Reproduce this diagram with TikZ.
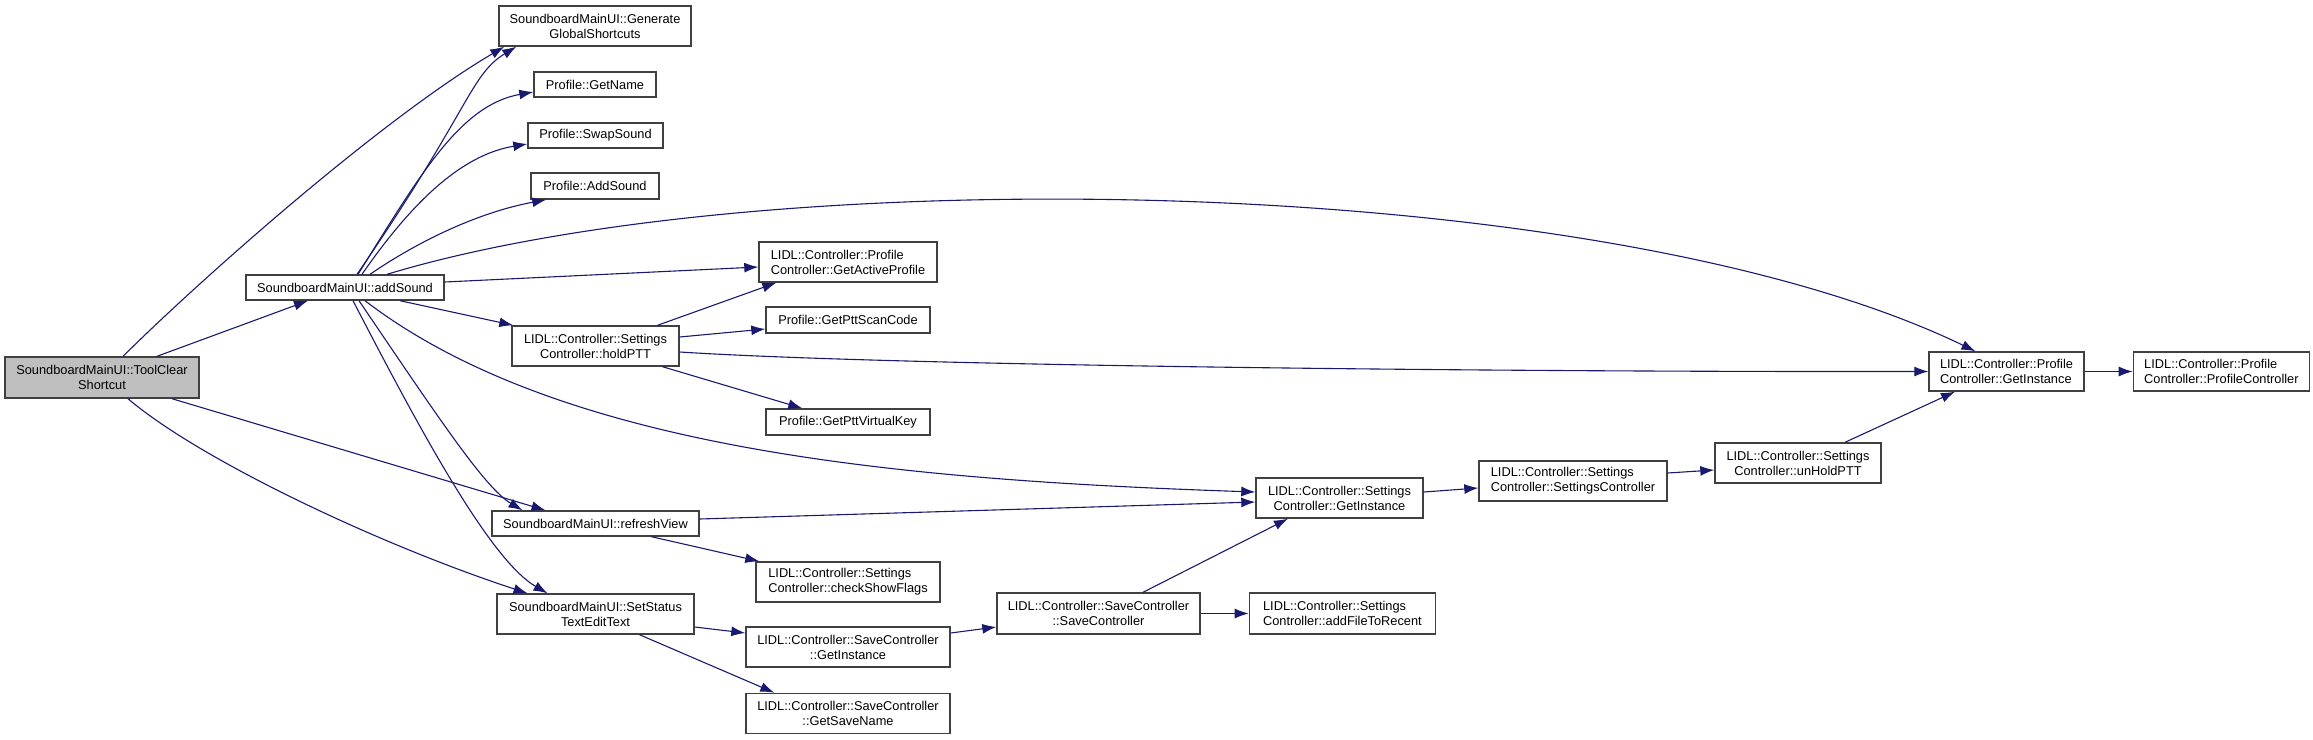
\documentclass[tikz,border=0pt]{standalone}
\usepackage{fontspec}
\setmainfont{Liberation Sans}
\usepackage{xcolor}
\usetikzlibrary{positioning,arrows.meta}
\definecolor{edgeblue}{HTML}{191970}
\definecolor{curgray}{HTML}{BFBFBF}

\begin{document}
\begin{tikzpicture}[
    x=1pt,y=-1pt,
    >={Latex[length=14pt,width=10pt]},
    node distance=48pt,
    fn/.style={draw=black!75,line width=1.4pt,fill=white,inner sep=0pt,align=center,font=\fontsize{12.8}{15}\selectfont},
    fnl/.style={fn,align=left},
    cur/.style={fn,fill=curgray},
    arr/.style={->,draw=edgeblue,line width=1.1pt}
]
\useasboundingbox (0,0) rectangle (2313,739);

\node[cur,minimum width=194pt,minimum height=41pt] (tcs) at (102,377.5) {SoundboardMainUI::ToolClear\\Shortcut};
\node[fn,minimum width=192pt,minimum height=40pt] (gen) at (595,26) {SoundboardMainUI::Generate\\GlobalShortcuts};
\node[fn,minimum width=122pt,minimum height=25pt] (getname) at (595,84.5) {Profile::GetName};
\node[fn,minimum width=135pt,minimum height=25pt] (swap) at (595.5,135.5) {Profile::SwapSound};
\node[fn,minimum width=128pt,minimum height=26pt] (addsnd) at (595,186) {Profile::AddSound};
\node[fn,minimum width=198pt,minimum height=25pt] (add) at (345,287.5) {SoundboardMainUI::addSound};
\node[fnl,minimum width=178pt,minimum height=40pt] (active) at (848,262) {LIDL::Controller::Profile\\Controller::GetActiveProfile};
\node[fn,minimum width=167pt,minimum height=40pt] (hold) at (595.5,346) {LIDL::Controller::Settings\\Controller::holdPTT};
\node[fn,minimum width=164pt,minimum height=26pt] (scan) at (848,320) {Profile::GetPttScanCode};
\node[fn,minimum width=164pt,minimum height=26pt] (vkey) at (848,422) {Profile::GetPttVirtualKey};
\node[fn,minimum width=207pt,minimum height=25pt] (refresh) at (595.5,523.5) {SoundboardMainUI::refreshView};
\node[fnl,minimum width=184pt,minimum height=40pt] (flags) at (848,582) {LIDL::Controller::Settings\\Controller::checkShowFlags};
\node[fn,minimum width=197pt,minimum height=40pt] (status) at (595.5,614) {SoundboardMainUI::SetStatus\\TextEditText};
\node[fn,minimum width=204pt,minimum height=40pt] (sgi) at (848,647) {LIDL::Controller::SaveController\\::GetInstance};
\node[fn,minimum width=204pt,minimum height=40pt,below=25pt of sgi] (sname) {LIDL::Controller::SaveController\\::GetSaveName};
\node[fn,minimum width=203pt,minimum height=41pt] (sctor) at (1098.5,613.5) {LIDL::Controller::SaveController\\::SaveController};
\node[fnl,minimum width=186pt,minimum height=41pt,right=of sctor] (recent) {LIDL::Controller::Settings\\Controller::addFileToRecent};
\node[fn,minimum width=167pt,minimum height=40pt] (setgi) at (1339.5,498) {LIDL::Controller::Settings\\Controller::GetInstance};
\node[fnl,minimum width=188pt,minimum height=40pt] (setctor) at (1573,481) {LIDL::Controller::Settings\\Controller::SettingsController};
\node[fn,minimum width=166pt,minimum height=40pt] (unhold) at (1798,463) {LIDL::Controller::Settings\\Controller::unHoldPTT};
\node[fnl,minimum width=155pt,minimum height=39pt] (pgi) at (2006.5,371.5) {LIDL::Controller::Profile\\Controller::GetInstance};
\node[fnl,minimum width=176pt,minimum height=39pt,right=of pgi] (pctor) {LIDL::Controller::Profile\\Controller::ProfileController};

\draw[arr] ([xshift=21pt]tcs.north) .. controls (200,280) and (380,120) .. ([xshift=6pt]gen.south west);
\draw[arr] ([xshift=55pt]tcs.north) -- ([xshift=-37pt]add.south);
\draw[arr] ([xshift=70pt]tcs.south) -- ([xshift=-50pt]refresh.north);
\draw[arr] ([xshift=26pt]tcs.south) .. controls (200,460) and (380,545) .. ([xshift=-68pt]status.north);

\draw[arr] ([xshift=12pt]add.north) .. controls (470,110) and (470,75) .. ([xshift=18pt]gen.south west);
\draw[arr] ([xshift=13pt]add.north) .. controls (420,175) and (460,105) .. ([yshift=-7.5pt]getname.west);
\draw[arr] ([xshift=17pt]add.north) .. controls (410,205) and (460,155) .. ([yshift=-8.5pt]swap.west);
\draw[arr] ([xshift=25pt]add.north) .. controls (420,240) and (480,212) .. ([xshift=16pt]addsnd.south west);
\draw[arr] ([xshift=42pt]add.north) .. controls (764,160) and (1600,170) .. ([xshift=-31pt]pgi.north);
\draw[arr] ([yshift=5.5pt]add.east) -- ([yshift=-5pt]active.west);
\draw[arr] ([xshift=55pt]add.south) -- ([xshift=2pt]hold.north west);
\draw[arr] ([xshift=20pt]add.south) .. controls (560,450) and (900,480) .. ([yshift=6pt]setgi.west);
\draw[arr] ([xshift=14pt]add.south) .. controls (440,420) and (485,488) .. ([xshift=-73pt]refresh.north);
\draw[arr] ([xshift=8pt]add.south) .. controls (420,430) and (490,560) .. ([xshift=-48pt]status.north);

\draw[arr] ([xshift=62pt]hold.north) -- ([xshift=18pt]active.south west);
\draw[arr] ([yshift=9pt]hold.east) -- ([yshift=-9pt]scan.west);
\draw[arr] ([yshift=-6pt]hold.east) .. controls (900,366) and (1500,372) .. (pgi.west);
\draw[arr] ([xshift=67pt]hold.south) -- ([xshift=37pt]vkey.north west);

\draw[arr] ([yshift=4.5pt]refresh.east) -- ([yshift=-4pt]setgi.west);
\draw[arr] ([xshift=56pt]refresh.south) -- ([xshift=4pt]flags.north west);

\draw[arr] ([yshift=-13pt]status.east) -- ([yshift=14pt]sgi.west);
\draw[arr] ([xshift=44pt]status.south) -- ([xshift=29pt]sname.north west);

\draw[arr] ([yshift=14pt]sgi.east) -- ([yshift=-13.5pt]sctor.west);
\draw[arr] ([xshift=44.5pt]sctor.north) -- ([xshift=-51.5pt]setgi.south);
\draw[arr] (sctor) -- (recent);
\draw[arr] ([yshift=6pt]setgi.east) -- ([yshift=-7pt]setctor.west);
\draw[arr] ([yshift=8pt]setctor.east) -- ([yshift=-7pt]unhold.west);
\draw[arr] ([xshift=47pt]unhold.north) -- ([xshift=-51.5pt]pgi.south);
\draw[arr] (pgi) -- (pctor);
\end{tikzpicture}
\end{document}
